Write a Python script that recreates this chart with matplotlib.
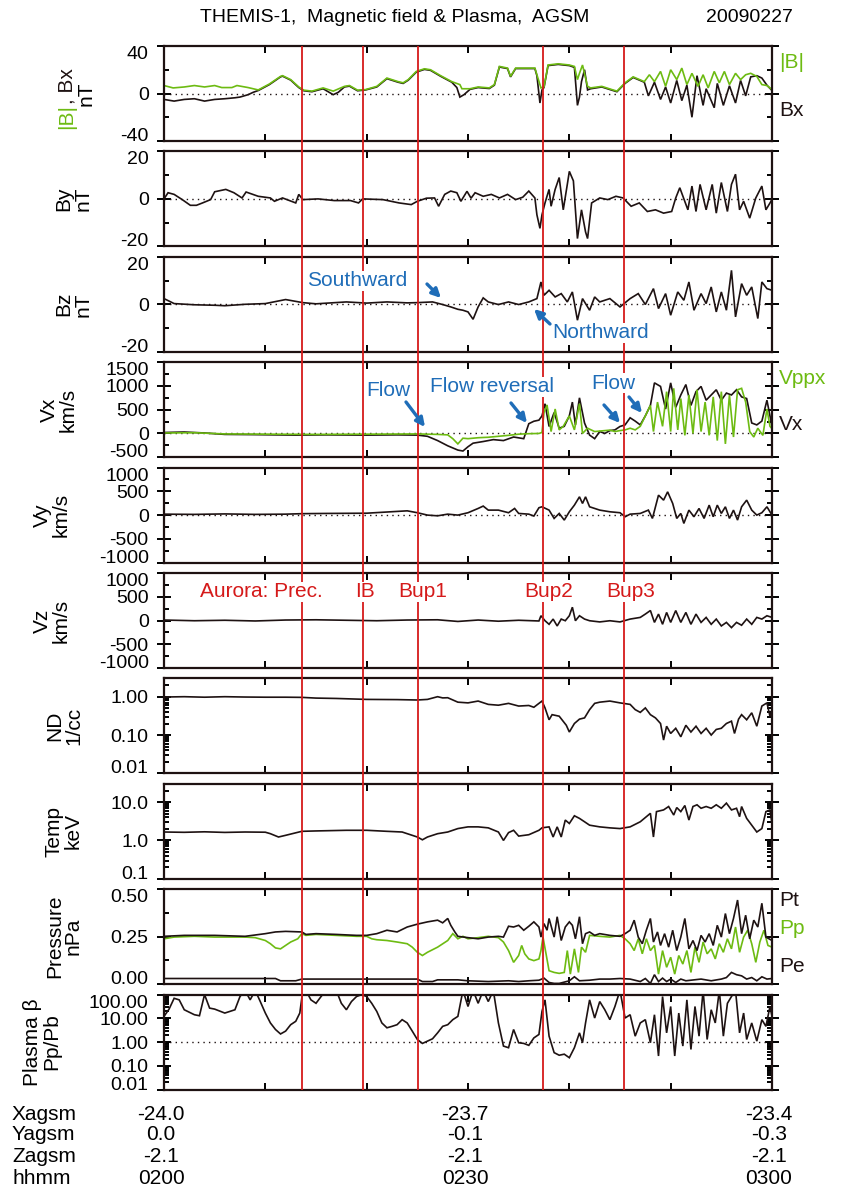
import numpy as np
import matplotlib
matplotlib.use('Agg')
import matplotlib.pyplot as plt
from matplotlib.ticker import FixedLocator, FixedFormatter, NullFormatter, NullLocator, LogLocator
from matplotlib.patches import FancyArrowPatch

plt.rcParams['font.family'] = ['Liberation Sans', 'DejaVu Sans']

# time in minutes after 02:00 UT, value
btot = [(0, 6.7), (0.9, 4.7), (2, 5.5), (3, 6.7), (4, 5.5), (5, 6.7), (5.7, 5), (6.7, 5), (7.2, 6.7), (8.3, 5),
        (8.8, 4), (9.3, 3), (10.4, 8), (11.5, 14.4), (11.7, 15), (12.5, 11.7), (13.3, 5.5), (13.8, 2.8), (14.6, 2),
        (15.7, 4.7), (16.7, 2), (17.8, 6), (18.3, 6.7), (19.1, 2.8), (19.9, 3.3), (21, 6), (22, 13), (23.1, 10),
        (23.6, 9), (24.1, 11.7), (24.9, 18.6), (25.7, 20.8), (26.3, 20), (27.3, 15), (28.4, 10), (29.2, 7.5),
        (29.4, 4), (30.2, 4), (31, 5.5), (32.1, 4.7), (32.6, 7.5), (33.1, 22.8), (33.9, 21.4), (34.2, 14.4),
        (34.7, 21.4), (35.8, 21.4), (36.6, 21.4), (36.8, 15.8), (37.2, 4.7), (37.5, 5.5), (37.9, 24), (38.9, 25),
        (40, 24), (40.5, 22.8), (40.8, 11.7), (41, 17), (41.3, 24), (41.8, 6), (42.1, 4.7), (43.2, 6), (44.2, 3.3),
        (44.7, 2), (45.1, 5.5), (45.5, 9), (46.3, 14), (47.4, 10), (47.9, 15.8), (48.4, 10), (49, 18.6), (49.5, 6),
        (50, 20), (50.6, 11.7), (51.1, 21.4), (51.6, 7.5), (52.1, 17), (52.7, 6), (53.2, 15.8), (53.7, 4.7),
        (54.3, 18.6), (54.8, 9), (55.3, 18.6), (55.8, 7.5), (56.4, 17), (56.9, 11.7), (57.4, 15.8), (57.9, 17),
        (58.5, 14.4), (59, 7.5), (59.5, 6.7), (60, 3.3)]
bx = [(0, -5), (1, -6.4), (2, -5), (3, -4.4), (4, -6.4), (5, -5), (6, -4.4), (7, -3.6), (7.5, -3), (8.3, -1),
      (8.8, 1), (9.3, 2.5), (10.4, 7.5), (11.5, 14), (11.7, 14.6), (12.5, 11.3), (13.3, 5), (13.8, 2.3), (14.6, 1.5),
      (15.7, 4), (16.3, 1), (16.7, -1), (17.2, 1), (17.8, 5.5), (18.3, 6.2), (19.1, 2.3), (19.9, 3), (21, 5.5),
      (22, 12.5), (23.1, 9.5), (23.6, 8.5), (24.1, 11.2), (24.9, 18), (25.7, 20.3), (26.3, 19.5), (27.3, 14.5),
      (28.4, 9.5), (28.9, 5), (29.2, -3), (29.6, -1), (30.2, 3.5), (31, 5), (32.1, 4.2), (32.6, 7), (33.1, 22.3),
      (33.9, 21), (34.2, 14), (34.7, 21), (35.8, 21), (36.6, 21), (36.8, 15), (37.1, -8), (37.3, 3), (37.5, 5),
      (37.9, 23.5), (38.9, 24.5), (40, 23.5), (40.5, 22), (40.8, -10), (41, -3), (41.2, 10), (41.5, 20), (41.8, 3),
      (42.1, 4), (43.2, 5.5), (44.2, 2.8), (44.7, 1.5), (45.1, 5), (45.5, 8.5), (46.3, 13.5), (47.4, 9.5), (47.8, -2),
      (48.4, 9.5), (49, -5), (49.5, 5.5), (50, -8), (50.6, 11), (51.1, -6), (51.6, 7), (52.1, -20), (52.6, 15),
      (53.2, -10), (53.5, 4), (54.3, -12), (54.6, 8.5), (55.2, -10), (55.8, 6.5), (56.4, -8), (56.9, 11), (57.4, -2),
      (57.9, 14), (58.5, 15), (59, 13), (59.5, 7), (60, 2.5)]
by = [(0, 0), (0.4, 2.6), (1, 1.9), (1.8, -0.3), (2.6, -2.7), (3.2, -2.7), (3.8, -1.7), (4.6, -0.3), (5, 3), (6.1, 4),
      (6.9, 2.6), (7.7, 0.4), (8.1, 2.9), (9.3, 1.1), (10.5, 0.4), (10.9, -1), (11.7, 0.4), (13, -1.7), (13.3, 1.9),
      (13.7, -0.3), (15.2, 0), (16.8, -0.7), (18.4, -0.7), (19.2, -1.7), (19.6, 0), (21.6, -0.3), (23.2, -1.7),
      (24.4, -2.4), (25, -1), (25.9, 0.3), (26.7, 0.4), (27.1, -3.1), (27.7, 1.9), (28.3, 3.3), (28.9, 2.6),
      (29.3, -1), (29.9, 3.2), (30.3, 0.3), (30.7, 2.6), (31.5, 1.1), (32.3, 1.9), (33.1, 0.4), (33.9, 1.9),
      (34.7, -0.3), (35.4, 0.7), (36, 3.3), (36.6, 0.4), (36.8, -6.7), (37.1, -12.4), (37.3, -6.7), (37.6, -1.7),
      (38, 4), (38.2, -3.1), (38.6, 4), (39, 9), (39.4, -4.6), (39.8, 6.1), (40, 11.6), (40.4, 7.6), (40.8, -16.7),
      (41.2, -4.6), (41.6, -13.9), (41.8, -16.7), (42.2, -1.7), (43, 0.4), (43.8, -0.3), (44.6, 1.1), (45.3, 0.4),
      (46.1, -3.1), (46.9, -1.7), (47.7, -5.3), (48.5, -4.6), (49.3, -6), (50.1, -5.3), (50.5, 0.4), (50.9, 4.7),
      (51.7, -4.6), (52.1, 5.4), (52.5, -5.3), (52.9, 6.1), (53.5, -4.6), (54.1, 6.1), (54.5, -6), (55, 6.9),
      (55.6, -5.3), (56, 6.1), (56.4, 10.4), (56.8, -4.6), (57.2, -1), (57.8, -8.1), (58.4, 0.4), (59, 5.4),
      (59.4, -4.6), (60, -0.3)]
bz = [(0, 2.4), (1, 0.3), (3, -0.2), (5, -0.4), (6, -0.6), (8, 0), (10, 0.3), (12, 2), (13.7, 0.7), (15, 0.2),
      (18, 1), (20, 0.5), (22, 1), (24, 0.6), (25, 0.7), (26.5, 1), (27.5, -0.1), (28.3, -1.1), (29, -2.1),
      (29.5, -2.5), (30, -3.2), (30.5, -6.3), (31, -1.1), (31.5, 2.7), (32, 1), (33, -0.1), (34, 1), (35, -0.1),
      (36, 1), (36.8, 2.4), (37.2, 9.4), (37.5, 3.8), (38, 5.9), (38.6, 3.1), (39.2, 4.5), (39.8, 1), (40.3, 5.2),
      (40.8, -6.7), (41.3, 2.4), (42, -2.5), (42.5, 3.1), (43, 1), (44, 2.4), (45, -1.1), (46, 2.4), (46.8, 4.5),
      (47.5, -0.1), (48.3, 6.6), (48.8, -1.8), (49.5, 4.5), (50, -4.6), (50.7, 5.2), (51.3, 1.7), (51.8, 9.4),
      (52.3, -2.5), (53, 4.5), (53.5, 0.3), (54, 7.3), (54.5, -3.2), (55, 5.2), (55.5, -2.5), (56, 14.3),
      (56.4, -5.3), (57, 8.7), (57.5, 3.8), (58, 7.3), (58.6, -6), (59, 9.4), (59.5, 6.6), (60, 5.9)]
vx = [(0, 20), (2, 30), (4, 10), (6, -20), (9, -25), (13, -35), (16, -30), (20, -35), (23, -30), (25, -35),
      (26, -60), (27, -150), (28, -260), (29, -350), (29.5, -370), (30, -280), (30.5, -205), (31.5, -170),
      (32.5, -130), (33.5, -150), (34.5, -75), (35.5, -110), (36, 205), (36.5, 257), (37, 280), (37.3, 370),
      (37.6, 625), (38, 147), (38.5, 440), (39, 110), (39.5, 150), (40, 370), (40.3, 660), (40.6, 180), (41, 750),
      (41.5, 220), (42, -35), (42.5, -110), (43, 40), (43.5, 0), (44, 60), (44.5, 75), (45, 147), (45.5, 180),
      (46, 330), (46.5, 260), (47, 180), (47.5, 370), (48, 590), (48.4, 1065), (49, 990), (49.5, 515), (50, 1065),
      (50.5, 550), (51, 810), (51.5, 1030), (52, 590), (52.5, 880), (53, 990), (53.5, 700), (54, 810), (54.5, 920),
      (55, 700), (55.5, 850), (56, 810), (56.5, 920), (57, 770), (57.5, 735), (58, 220), (58.5, 180), (59, 260),
      (59.5, 700), (60, 150)]
vppx = [(0, 10), (3, 15), (6, -10), (10, -15), (15, -20), (20, -15), (25, -10), (27, -20), (28, -30), (28.5, -110),
        (29, -220), (29.5, -100), (30, -110), (31, -90), (32, -80), (33, -60), (34, -40), (35, -15), (36, -5),
        (37, 0), (37.3, 20), (37.5, 440), (37.8, 600), (38.2, 40), (38.6, 515), (39, 75), (39.4, 150), (40, 370),
        (40.5, 75), (41, 625), (41.3, 0), (41.8, 110), (42.5, 40), (43, 50), (44, 70), (44.5, 40), (45, 60),
        (45.5, 75), (46, 110), (46.5, 75), (47, 150), (47.5, 370), (48, 590), (48.3, 40), (48.7, 660), (49.2, 150),
        (49.6, 880), (50, 40), (50.3, 950), (50.7, 75), (51, 735), (51.4, -40), (51.8, 810), (52.2, 0), (52.6, 920),
        (53, 40), (53.4, 660), (53.8, -40), (54.2, 770), (54.6, -150), (55, 880), (55.4, -220), (55.8, 810),
        (56.2, -75), (56.6, 920), (57, 950), (57.4, 660), (57.8, 40), (58.2, -75), (58.6, 110), (59.1, -40),
        (59.5, 515), (59.8, 150), (60, 100)]
vy = [(0, 20), (3, 15), (6, 25), (9, 15), (12, 20), (13.6, 30), (16, 35), (20, 40), (24, 90), (25, 50), (26, 0),
      (27, -15), (28, 20), (29, 0), (30, 50), (31, 140), (31.5, 190), (32, 105), (33, 105), (34, 50), (34.6, 140),
      (35, 35), (36, 20), (36.5, -20), (37, 155), (37.3, 175), (38, 105), (38.5, -70), (39, 35), (39.5, -105),
      (40, 70), (40.5, 210), (41, 385), (41.3, 245), (41.6, 385), (42, 175), (42.5, 140), (43, 105), (44, 70),
      (45, 50), (45.5, -35), (46, 20), (47, 35), (47.8, 105), (48.2, -70), (48.8, 420), (49.3, 315), (49.7, 490),
      (50.2, 245), (50.6, -70), (51, 35), (51.3, -175), (51.8, 105), (52.3, -35), (52.8, 140), (53.3, -70),
      (53.8, 210), (54.2, -35), (54.6, 210), (55, 35), (55.4, 175), (55.8, -70), (56.2, 105), (56.6, -105),
      (57, 175), (57.5, 315), (58, 105), (58.5, 0), (59, 50), (59.5, 175), (60, 0)]
vz = [(0, 10), (3, -5), (6, 5), (9, -10), (12, 10), (15, 15), (18, 5), (21, -5), (24, 10), (27, 15), (29, -20),
      (31, 10), (33, -15), (35, 5), (37, -10), (37.2, 100), (37.6, -5), (38, -80), (38.4, 30), (38.8, -115),
      (39.2, 30), (39.6, -5), (40, 100), (40.3, 280), (40.6, -5), (41, 100), (41.5, 30), (42, -5), (43, -30),
      (44, -5), (45, -30), (46, 30), (47, 65), (47.5, 135), (48, 210), (48.4, -40), (48.8, 135), (49.2, -80),
      (49.6, 170), (50, -40), (50.5, 210), (51, -40), (51.5, 170), (52, -80), (52.5, 135), (53, -40), (53.5, 65),
      (54, -80), (54.5, 30), (55, -115), (55.5, -40), (56, -150), (56.5, -40), (57, -100), (57.5, 30), (58, -80),
      (58.5, 65), (59, 30), (59.5, 100), (60, 65)]
nd = [(0, 0.98), (2, 1.0), (4, 0.97), (6, 1.0), (8, 0.98), (10, 0.97), (12, 0.97), (13.6, 0.96), (15, 0.92),
      (17, 0.9), (20, 0.85), (23, 0.84), (25, 0.82), (26, 0.85), (27, 1.0), (27.5, 0.93), (28, 0.94), (29, 0.72),
      (30, 0.69), (31, 0.77), (32, 0.63), (33, 0.60), (34, 0.67), (35, 0.57), (36, 0.59), (36.5, 0.53), (37, 0.67),
      (37.3, 0.77), (37.6, 0.51), (38, 0.25), (38.3, 0.34), (39, 0.31), (39.7, 0.18), (40, 0.12), (40.5, 0.20),
      (41, 0.26), (41.5, 0.28), (42, 0.46), (42.5, 0.67), (43, 0.72), (44, 0.77), (45, 0.69), (46, 0.63),
      (46.5, 0.46), (47, 0.39), (47.5, 0.51), (48, 0.34), (48.5, 0.28), (49, 0.20), (49.3, 0.074), (49.6, 0.17),
      (50, 0.11), (50.5, 0.15), (51, 0.09), (51.5, 0.18), (52, 0.12), (52.5, 0.17), (53, 0.11), (53.5, 0.15),
      (54, 0.10), (54.5, 0.14), (55, 0.15), (55.5, 0.20), (56, 0.23), (56.3, 0.11), (56.7, 0.26), (57, 0.34),
      (57.5, 0.25), (58, 0.38), (58.5, 0.17), (59, 0.57), (59.5, 0.69), (59.8, 0.31), (60, 0.46)]
temp = [(0, 1.66), (2, 1.63), (4, 1.68), (6, 1.62), (8, 1.66), (10, 1.64), (10.5, 1.5), (11.3, 1.23), (12, 1.36),
        (13.6, 1.73), (15, 1.77), (18, 1.84), (20, 1.84), (22, 1.73), (23.5, 1.66), (25, 1.23), (25.5, 1.04),
        (26, 1.23), (27, 1.5), (28, 1.66), (29, 2.04), (30, 2.26), (31, 2.26), (32, 2.13), (33, 1.66), (33.5, 1.0),
        (34, 1.6), (34.5, 1.84), (35, 1.30), (36, 1.41), (37, 1.84), (37.3, 2.13), (38, 2.26), (38.4, 1.23),
        (38.8, 2.26), (39.2, 1.23), (39.6, 3.4), (40, 2.77), (40.5, 4.4), (41, 3.76), (41.5, 3.07), (42, 2.5),
        (43, 2.26), (44, 2.13), (45, 2.04), (46, 2.26), (47, 3.07), (47.6, 4.16), (48, 5.1), (48.3, 1.23),
        (48.6, 5.65), (49.3, 6.25), (49.8, 7.67), (50.3, 4.6), (50.6, 7.2), (51, 5.65), (51.4, 8.15), (51.8, 3.4),
        (52.2, 7.67), (52.6, 8.5), (53, 6.9), (53.5, 7.67), (54, 6.9), (54.5, 8.5), (55, 6.9), (55.5, 9.4),
        (56, 6.25), (56.5, 6.9), (56.8, 4.16), (57, 7.67), (57.5, 3.76), (58, 2.5), (58.5, 1.66), (59, 2.04),
        (59.4, 5.65), (59.8, 6.25), (60, 2.77)]
pt = [(0, 0.252), (2, 0.257), (5, 0.257), (8, 0.252), (10, 0.266), (11, 0.275), (12, 0.278), (13.6, 0.275),
      (14, 0.262), (15, 0.266), (17, 0.262), (19, 0.257), (20, 0.257), (21, 0.266), (22, 0.284), (23, 0.275),
      (24, 0.301), (25, 0.316), (26, 0.328), (27, 0.337), (27.5, 0.323), (28, 0.346), (28.3, 0.310), (28.7, 0.275),
      (29, 0.252), (30, 0.245), (31, 0.239), (32, 0.248), (33, 0.252), (33.5, 0.248), (34, 0.305), (34.5, 0.301),
      (35, 0.310), (35.5, 0.284), (36, 0.305), (36.5, 0.328), (37, 0.301), (37.2, 0.248), (37.5, 0.319),
      (37.8, 0.284), (38, 0.346), (38.5, 0.248), (38.8, 0.355), (39.2, 0.230), (39.6, 0.301), (40, 0.328),
      (40.3, 0.310), (40.6, 0.239), (41, 0.355), (41.3, 0.213), (41.6, 0.266), (42, 0.275), (42.5, 0.257),
      (43, 0.266), (44, 0.257), (45, 0.252), (45.5, 0.266), (46, 0.284), (46.4, 0.337), (46.8, 0.248),
      (47.2, 0.213), (47.6, 0.284), (48, 0.346), (48.3, 0.222), (48.7, 0.275), (49, 0.204), (49.4, 0.266),
      (49.8, 0.195), (50.2, 0.284), (50.6, 0.177), (51, 0.248), (51.4, 0.346), (51.8, 0.186), (52.2, 0.230),
      (52.6, 0.177), (53, 0.257), (53.4, 0.222), (53.8, 0.266), (54.2, 0.204), (54.6, 0.310), (55, 0.248),
      (55.4, 0.372), (55.8, 0.266), (56.2, 0.346), (56.6, 0.443), (57, 0.266), (57.4, 0.363), (57.8, 0.239),
      (58.2, 0.337), (58.6, 0.301), (59, 0.426), (59.4, 0.248), (60, 0.230)]
pp = [(0, 0.239), (1, 0.248), (3, 0.252), (5, 0.248), (8, 0.248), (9, 0.245), (10, 0.230), (10.5, 0.213),
      (11, 0.191), (11.5, 0.186), (12, 0.204), (12.5, 0.222), (13.2, 0.239), (13.6, 0.266), (14, 0.257),
      (15, 0.262), (17, 0.257), (19, 0.252), (20, 0.252), (20.5, 0.239), (21, 0.234), (22, 0.230), (23, 0.222),
      (24, 0.213), (24.5, 0.195), (25, 0.168), (25.5, 0.151), (26, 0.168), (27, 0.195), (28, 0.230), (28.5, 0.266),
      (29, 0.239), (29.5, 0.252), (30, 0.239), (31, 0.245), (32, 0.252), (33, 0.245), (33.5, 0.222), (34, 0.177),
      (34.5, 0.115), (35, 0.151), (35.3, 0.204), (35.6, 0.160), (36, 0.133), (36.5, 0.124), (37, 0.133),
      (37.2, 0.177), (37.4, 0.248), (37.7, 0.160), (38, 0.071), (38.5, 0.062), (39, 0.057), (39.5, 0.062),
      (39.8, 0.177), (40.1, 0.053), (40.5, 0.186), (40.9, 0.062), (41.2, 0.195), (41.6, 0.168), (42, 0.257),
      (43, 0.252), (44, 0.248), (45, 0.257), (45.5, 0.239), (46, 0.213), (46.4, 0.177), (46.8, 0.239),
      (47.2, 0.160), (47.6, 0.239), (48, 0.177), (48.4, 0.204), (48.8, 0.053), (49.2, 0.177), (49.6, 0.089),
      (50, 0.142), (50.4, 0.053), (50.8, 0.151), (51.2, 0.106), (51.6, 0.177), (52, 0.062), (52.4, 0.195),
      (52.8, 0.115), (53.2, 0.222), (53.6, 0.160), (54, 0.186), (54.4, 0.133), (54.8, 0.213), (55.2, 0.168),
      (55.6, 0.239), (56, 0.186), (56.4, 0.301), (56.8, 0.168), (57.2, 0.248), (57.6, 0.284), (58, 0.213),
      (58.4, 0.115), (58.8, 0.222), (59.2, 0.284), (59.6, 0.204), (60, 0.195)]
pe = [(0, 0.030), (5, 0.030), (11, 0.030), (11.5, 0.018), (13, 0.018), (13.6, 0.027), (20, 0.027), (25, 0.027),
      (25.5, 0.014), (26.5, 0.014), (27, 0.023), (29, 0.023), (30, 0.018), (32, 0.014), (34, 0.018), (35, 0.014),
      (36, 0.018), (37, 0.021), (37.5, 0.032), (38, 0.009), (38.5, 0.004), (39, 0.004), (40, 0.018), (40.5, 0.039),
      (41, 0.018), (42, 0.021), (43, 0.027), (44, 0.027), (45, 0.030), (46, 0.027), (47, 0.014), (47.5, 0.030),
      (48, 0.004), (48.4, 0.050), (48.8, 0.014), (49.2, 0.032), (49.6, 0.014), (50, 0.027), (50.5, 0.009),
      (51, 0.027), (51.5, 0.018), (52, 0.021), (53, 0.027), (54, 0.018), (55, 0.027), (55.5, 0.035), (56, 0.062),
      (56.5, 0.050), (57, 0.044), (57.5, 0.027), (58, 0.035), (58.5, 0.018), (59, 0.039), (59.5, 0.027),
      (60, 0.030)]
beta = [(0, 12.1), (0.5, 24.5), (1, 70), (1.5, 60), (2, 23), (3, 14.2), (3.5, 12.9), (4, 100), (4.5, 27),
        (5, 24.5), (6, 16.7), (7, 23), (7.5, 83), (8, 150), (8.5, 60), (9, 150), (9.5, 51), (10, 16.7), (10.5, 6.4),
        (11, 3.4), (11.5, 2.2), (12, 2.9), (12.5, 5.4), (13, 7.5), (13.4, 16.7), (13.7, 150), (14, 150), (14.5, 60),
        (15, 43), (15.5, 83), (16, 150), (16.5, 100), (17, 150), (17.5, 43), (18, 23), (18.5, 51), (19, 83),
        (19.5, 100), (20, 83), (20.5, 43), (21, 19.5), (21.5, 6.4), (22, 4.0), (22.5, 4.6), (23, 5.4), (23.5, 8.8),
        (24, 6.4), (24.5, 2.9), (25, 1.29), (25.5, 0.88), (26, 1.1), (26.5, 1.38), (27, 2.45), (27.5, 4.6),
        (28, 5.4), (28.5, 8.8), (29, 12.1), (29.5, 150), (30, 31.6), (30.5, 150), (31, 43), (31.5, 150), (32, 51),
        (32.5, 150), (33, 6.4), (33.5, 0.68), (34, 0.58), (34.5, 3.4), (35, 0.94), (35.5, 0.88), (36, 0.73),
        (36.5, 1.5), (37, 2.1), (37.3, 19.5), (37.6, 60), (38, 1.78), (38.5, 0.36), (39, 0.28), (39.5, 0.31),
        (40, 0.22), (40.5, 0.58), (41, 2.45), (41.3, 0.94), (41.6, 6.4), (42, 60), (42.5, 10.3), (43, 51), (43.5, 23),
        (44, 8.8), (44.5, 31.6), (45, 150), (45.5, 10.3), (46, 14.2), (46.5, 1.78), (47, 6.4), (47.5, 8.8),
        (48, 0.94), (48.4, 14.2), (48.8, 0.26), (49.2, 83), (49.6, 2.45), (50, 31.6), (50.4, 0.26), (50.8, 16.7),
        (51.2, 0.68), (51.6, 60), (52, 0.49), (52.4, 31.6), (52.8, 1.78), (53.2, 150), (53.6, 1.29), (54, 23),
        (54.4, 6.4), (54.8, 150), (55.2, 1.78), (55.6, 43), (56, 83), (56.4, 150), (56.8, 2.45), (57.2, 16.7),
        (57.5, 1.29), (58, 6.4), (58.5, 1.1), (59, 8.8), (59.4, 4.6), (59.8, 31.6), (60, 12.1)]

event_times = [13.6, 19.6, 25.1, 37.4, 45.4]
event_names = ['Aurora: Prec.', 'IB', 'Bup1', 'Bup2', 'Bup3']

orbit_rows = ['Xagsm', 'Yagsm', 'Zagsm', 'hhmm']
orbit_times = [0, 30, 60]
orbit_vals = [['-24.0', '-23.7', '-23.4'],
              ['0.0', '-0.1', '-0.3'],
              ['-2.1', '-2.1', '-2.1'],
              ['0200', '0230', '0300']]

BLACK = '#1e1212'
GREEN = '#6dbb12'
RED = '#d51a1a'
BLUE = '#1f6db8'
FS = 15
TFS = 14

W, H = 846, 1192
fig = plt.figure(figsize=(W / 100, H / 100), dpi=100)
X0, X1 = 164, 772
TOP0, PH, STEP = 46, 95, 105.4


def fx(x):
    return x / W


def fy(y):
    return 1 - y / H


def panel(i):
    top = TOP0 + i * STEP
    return fig.add_axes([fx(X0), fy(top + PH), (X1 - X0) / W, PH / H])


def style(ax, ylim, major, labels, minor=None, log=False, label=None):
    ax.set_xlim(0, 60)
    if log:
        ax.set_yscale('log')
    ax.set_ylim(*ylim)
    ax.xaxis.set_major_locator(FixedLocator(np.arange(0, 61, 10)))
    ax.xaxis.set_major_formatter(NullFormatter())
    ax.xaxis.set_minor_locator(NullLocator())
    ax.yaxis.set_major_locator(FixedLocator(major))
    ax.yaxis.set_major_formatter(FixedFormatter(labels))
    if log:
        ax.yaxis.set_minor_locator(LogLocator(base=10, subs=np.arange(2, 10), numticks=20))
    elif minor is not None:
        ax.yaxis.set_minor_locator(FixedLocator(minor))
    else:
        ax.yaxis.set_minor_locator(NullLocator())
    ax.yaxis.set_minor_formatter(NullFormatter())
    ax.tick_params(which='both', direction='in', top=True, right=True, width=1.4, labelsize=TFS)
    ax.tick_params(axis='x', which='major', length=5)
    ax.tick_params(axis='y', which='major', direction='inout', length=10, pad=6)
    ax.tick_params(axis='y', which='minor', length=3.5)
    for s in ax.spines.values():
        s.set_linewidth(1.6)
        s.set_color(BLACK)
    # end labels sit just inside the frame
    ticks = ax.yaxis.get_major_ticks()
    for tk, val in zip(ticks, major):
        if np.isclose(val, ylim[1]):
            tk.label1.set_va('top')
        elif np.isclose(val, ylim[0]):
            tk.label1.set_va('baseline')
    if label is not None:
        ax.set_ylabel(label, fontsize=FS, linespacing=1.0, labelpad=20)


def trace(ax, data, color=BLACK, lw=1.2):
    t, v = np.array(data).T
    ax.plot(t, v, color=color, lw=lw, solid_joinstyle='miter')


def zero_line(ax, y=0):
    ax.axhline(y, color=BLACK, lw=1.0, ls=(0, (1, 3)))


axes = [panel(i) for i in range(10)]

ax = axes[0]
zero_line(ax)
trace(ax, bx)
trace(ax, btot, GREEN)
style(ax, (-40, 40), [-40, 0, 40], ['-40', '0', '40'], minor=[-20, 20])
ax.text((96 - X0) / (X1 - X0), 0.5, 'nT', fontsize=FS, rotation=90, rotation_mode='anchor',
        ha='center', va='bottom', transform=ax.transAxes)
ax.text((76 - X0) / (X1 - X0), 0.39, '|B|', color=GREEN, fontsize=FS, rotation=90, rotation_mode='anchor',
        ha='right', va='bottom', transform=ax.transAxes)
ax.text((76 - X0) / (X1 - X0), 0.39, ', Bx', color=BLACK, fontsize=FS, rotation=90, rotation_mode='anchor',
        ha='left', va='bottom', transform=ax.transAxes)

ax = axes[1]
zero_line(ax)
trace(ax, by)
style(ax, (-20, 20), [-20, 0, 20], ['-20', '0', '20'], minor=[-10, 10], label='By\nnT')

ax = axes[2]
zero_line(ax)
trace(ax, bz)
style(ax, (-20, 20), [-20, 0, 20], ['-20', '0', '20'], minor=[-10, 10], label='Bz\nnT')

ax = axes[3]
zero_line(ax)
trace(ax, vx)
trace(ax, vppx, GREEN)
style(ax, (-500, 1500), [-500, 0, 500, 1000, 1500], ['-500', '0', '500', '1000', '1500'],
      minor=[-250, 250, 750, 1250], label='Vx\nkm/s')

ax = axes[4]
zero_line(ax)
trace(ax, vy)
style(ax, (-1000, 1000), [-1000, -500, 0, 500, 1000], ['-1000', '-500', '0', '500', '1000'],
      minor=[-750, -250, 250, 750], label='Vy\nkm/s')

ax = axes[5]
trace(ax, vz)
style(ax, (-1000, 1000), [-1000, -500, 0, 500, 1000], ['-1000', '-500', '0', '500', '1000'],
      minor=[-750, -250, 250, 750], label='Vz\nkm/s')

ax = axes[6]
trace(ax, nd)
style(ax, (0.01, 3), [0.01, 0.1, 1], ['0.01', '0.10', '1.00'], log=True, label='ND\n1/cc')

ax = axes[7]
trace(ax, temp)
style(ax, (0.1, 30), [0.1, 1, 10], ['0.1', '1.0', '10.0'], log=True, label='Temp\nkeV')

ax = axes[8]
trace(ax, pp, GREEN)
trace(ax, pt)
trace(ax, pe)
style(ax, (0, 0.5), [0, 0.25, 0.5], ['0.00', '0.25', '0.50'], minor=[0.125, 0.375], label='Pressure\nnPa')

ax = axes[9]
zero_line(ax, 1)
trace(ax, beta)
style(ax, (0.01, 100), [0.01, 0.1, 1, 10, 100], ['0.01', '0.10', '1.00', '10.00', '100.00'], log=True,
      label='Plasma \u03b2\nPp/Pb')

# red event lines across all panels
over = fig.add_axes([fx(X0), fy(TOP0 + 9 * STEP + PH), (X1 - X0) / W, (9 * STEP + PH) / H], zorder=5)
over.set_xlim(0, 60)
over.set_ylim(0, 1)
over.axis('off')
over.patch.set_alpha(0)
for t in event_times:
    over.axvline(t, color=RED, lw=1.3)

ev_x = [200, 355, 398, 524, 606]
for name, x in zip(event_names, ev_x):
    fig.text(fx(x), fy(592), name, color=RED, fontsize=FS, ha='left', va='center', zorder=10,
             bbox=dict(fc='white', ec='none', pad=0.3))

# blue annotations
notes = [('Southward', 307, 281), ('Northward', 552, 333), ('Flow', 366, 390),
         ('Flow reversal', 430, 387), ('Flow', 591, 383)]
for txt, x, y in notes:
    fig.text(fx(x), fy(y), txt, color=BLUE, fontsize=FS, ha='left', va='center', zorder=10,
             bbox=dict(fc='white', ec='none', pad=0.3))
arrows = [((427, 284), (441, 298)), ((550, 324), (534, 309)), ((406, 402), (425, 427)),
          ((511, 403), (527, 423)), ((604, 405), (620, 423)), ((629, 397), (642, 413))]
for (xa, ya), (xb, yb) in arrows:
    fig.add_artist(FancyArrowPatch((fx(xa), fy(ya)), (fx(xb), fy(yb)), transform=fig.transFigure,
                                   arrowstyle='-|>', mutation_scale=13, lw=2.4, color=BLUE, zorder=11,
                                   shrinkA=0, shrinkB=0))

# right-hand series labels
side = [('|B|', GREEN, 62), ('Bx', BLACK, 110), ('Vppx', GREEN, 378), ('Vx', BLACK, 425),
        ('Pt', BLACK, 900), ('Pp', GREEN, 929), ('Pe', BLACK, 966)]
for txt, col, y in side:
    fig.text(fx(779), fy(y), txt, color=col, fontsize=FS, ha='left', va='center')

fig.text(fx(200), fy(18), 'THEMIS-1,  Magnetic field & Plasma,  AGSM', fontsize=14, ha='left', va='center')
fig.text(fx(706), fy(18), '20090227', fontsize=14, ha='left', va='center')

# orbit / time table under the plots
row_y = [1114, 1135, 1157, 1178]
for name, vals, y in zip(orbit_rows, orbit_vals, row_y):
    fig.text(fx(12), fy(y), name, fontsize=FS, ha='left', va='center')
    for t, v in zip(orbit_times, vals):
        x = X0 + (X1 - X0) * t / 60 - 3
        fig.text(fx(x), fy(y), v, fontsize=FS, ha='center', va='center')

fig.savefig('out.png', dpi=100)
